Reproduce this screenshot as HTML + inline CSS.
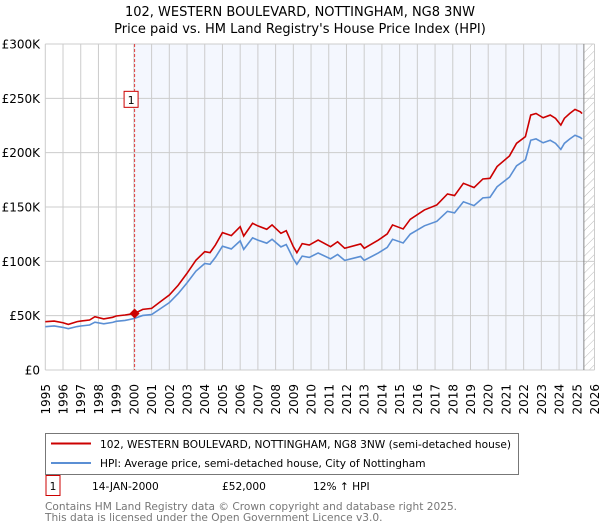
<!DOCTYPE html>
<html><head><meta charset="utf-8"><style>
body{margin:0;background:#fff;font-family:"DejaVu Sans","Liberation Sans",sans-serif;}
svg{display:block}
text{font-family:"DejaVu Sans","Liberation Sans",sans-serif;}
</style></head><body>
<svg id="chart" width="600" height="530" viewBox="0 0 600 530">
<defs><pattern id="hatch" width="6" height="6" patternUnits="userSpaceOnUse" patternTransform="rotate(45)"><line x1="0" y1="0" x2="0" y2="6" stroke="#bbb" stroke-width="1"/></pattern></defs>
<text x="300" y="16" text-anchor="middle" font-size="13" fill="#000">102, WESTERN BOULEVARD, NOTTINGHAM, NG8 3NW</text>
<text x="300" y="33" text-anchor="middle" font-size="13" fill="#000">Price paid vs. HM Land Registry's House Price Index (HPI)</text>
<g id="plot"></g>
<g>
<rect x="45.5" y="433.5" width="473" height="41" fill="#fff" stroke="#777"/>
<line x1="51" y1="443.5" x2="91" y2="443.5" stroke="#cc0000" stroke-width="2"/>
<text x="100" y="448" font-size="10.6">102, WESTERN BOULEVARD, NOTTINGHAM, NG8 3NW (semi-detached house)</text>
<line x1="51" y1="463" x2="91" y2="463" stroke="#5b8fd4" stroke-width="2"/>
<text x="100" y="467" font-size="10.6">HPI: Average price, semi-detached house, City of Nottingham</text>
</g>
<g>
<rect x="46" y="475.5" width="14" height="20" fill="#fff" stroke="#cc0000"/>
<text x="53" y="490" text-anchor="middle" font-size="10.6">1</text>
<text x="92" y="490" font-size="10.6">14-JAN-2000</text>
<text x="222" y="490" font-size="10.6">£52,000</text>
<text x="313" y="490" font-size="10.6">12% ↑ HPI</text>
</g>
<text x="45" y="510" font-size="10.6" fill="#777">Contains HM Land Registry data © Crown copyright and database right 2025.</text>
<text x="45" y="521" font-size="10.6" fill="#777">This data is licensed under the Open Government Licence v3.0.</text>
</svg>
<script>
const priceYears=[1995,1995.5,1996,1996.3,1996.8,1997,1997.5,1997.8,1998.3,1998.8,1999,1999.5,2000.04,2000.5,2001,2001.5,2002,2002.5,2003,2003.5,2004,2004.3,2004.6,2005,2005.5,2006,2006.2,2006.7,2007,2007.5,2007.8,2008.3,2008.6,2009,2009.2,2009.5,2009.9,2010.4,2011.1,2011.5,2011.9,2012.8,2013,2013.8,2014.3,2014.6,2015.2,2015.6,2016.4,2017.1,2017.7,2018.1,2018.6,2019.2,2019.7,2020.1,2020.5,2021.2,2021.6,2022.1,2022.4,2022.7,2023.1,2023.5,2023.8,2024.1,2024.3,2024.6,2024.9,2025.2,2025.3];
const priceValues=[44.5,45,43.5,42,44.5,45,46,49,47,48.5,49.7,50.6,52,55.8,56.7,62.9,69,78,89,101,108.9,108,115,126.4,123.7,131.9,123.3,135,132.6,129.5,133.5,125.8,128.2,113.5,108,116.3,115,119.6,113.5,118,112,116,112,119.6,125.2,133.5,129.8,138.7,147.3,151.9,162,160.5,171.8,167.9,175.8,176.4,187.2,197,208.6,214.7,234.6,236.1,232.1,234.6,231.6,225.4,231.6,236,239.8,237.6,236];
const hpiValues=[39.9,40.5,39.2,38,40,40.5,41.4,44,42.5,43.8,44.8,45.6,47.5,50.2,51,56.5,62,70.3,80.2,91,98,97.3,103.6,113.9,111.4,118.8,111,121.6,119.5,116.7,120.3,113.3,115.5,102.3,97.3,104.8,103.6,107.7,102.3,106.3,100.9,104.5,100.9,107.7,112.8,120.3,116.9,125,132.7,136.8,146,144.6,154.8,151.3,158.4,158.9,168.6,177.5,187.9,193.4,211.4,212.7,209.1,211.4,208.6,203,208.6,212.6,216,214,212.6];
const yTicks=[0,50,100,150,200,250,300];
const yTickLabels=["£0","£50K","£100K","£150K","£200K","£250K","£300K"];
const xTickYears=[1995,1996,1997,1998,1999,2000,2001,2002,2003,2004,2005,2006,2007,2008,2009,2010,2011,2012,2013,2014,2015,2016,2017,2018,2019,2020,2021,2022,2023,2024,2025,2026];
const saleYear=[2000.04];
const saleValue=[52];
const NS="http://www.w3.org/2000/svg";
const X0=45.3,X1=594.5,Y0=370,Y1=44;
function xs(y){return X0+(y-1995)/(2026-1995)*(X1-X0);}
function ys(v){return Y0-v/300*(Y0-Y1);}
const g=document.getElementById('plot');
function mk(tag,attrs){const e=document.createElementNS(NS,tag);for(const k in attrs)e.setAttribute(k,attrs[k]);g.appendChild(e);return e;}
let e;
e=mk('rect',{x:X0,y:Y1,width:X1-X0,height:Y0-Y1,fill:'#fff'});


const hatchStart=2025.4;
e=mk('rect',{x:xs(saleYear[0]),y:Y1,width:xs(hatchStart)-xs(saleYear[0]),height:Y0-Y1,fill:'#f4f7fe'});


e=mk('rect',{x:xs(hatchStart),y:Y1,width:X1-xs(hatchStart),height:Y0-Y1,fill:'url(#hatch)'});


xTickYears.forEach(yr=>{
 e=mk('line',{x1:xs(yr),x2:xs(yr),y1:Y1,y2:Y0,stroke:'#cccccc','stroke-width':1});
 
 
 e=mk('text',{x:0,y:0,'font-size':12,'text-anchor':'end',transform:`translate(${xs(yr)+4.5},384) rotate(-90)`});
 e.textContent=yr;
 
 
});
yTicks.forEach((v,i)=>{
 e=mk('line',{x1:X0,x2:X1,y1:ys(v),y2:ys(v),stroke:'#cccccc','stroke-width':1});
 
 
 e=mk('text',{x:40,y:ys(v)+4.5,'font-size':12,'text-anchor':'end'});
 e.textContent=yTickLabels[i];
 
 
});
e=mk('line',{x1:xs(hatchStart),x2:xs(hatchStart),y1:Y1,y2:Y0,stroke:'#888','stroke-width':1});


e=mk('line',{x1:xs(saleYear[0]),x2:xs(saleYear[0]),y1:Y1,y2:Y0,stroke:'#e04040','stroke-width':1,'stroke-dasharray':'3,2'});


e=mk('polyline',{points:priceYears.map((y,i)=>xs(y)+','+ys(hpiValues[i])).join(' '),fill:'none',stroke:'#5b8fd4','stroke-width':1.6});


e=mk('polyline',{points:priceYears.map((y,i)=>xs(y)+','+ys(priceValues[i])).join(' '),fill:'none',stroke:'#cc0000','stroke-width':1.6});


const sx=xs(saleYear[0]),sy=ys(saleValue[0]);
e=mk('polygon',{points:`${sx},${sy-5} ${sx+5},${sy} ${sx},${sy+5} ${sx-5},${sy}`,fill:'#cc0000'});


e=mk('rect',{x:sx-10.5,y:ys(250)-7,width:14,height:16,fill:'#fff',stroke:'#cc0000'});


e=mk('text',{x:sx-3.5,y:ys(250)+5.5,'font-size':11,'text-anchor':'middle'});
e.textContent='1';


</script>
</body></html>
